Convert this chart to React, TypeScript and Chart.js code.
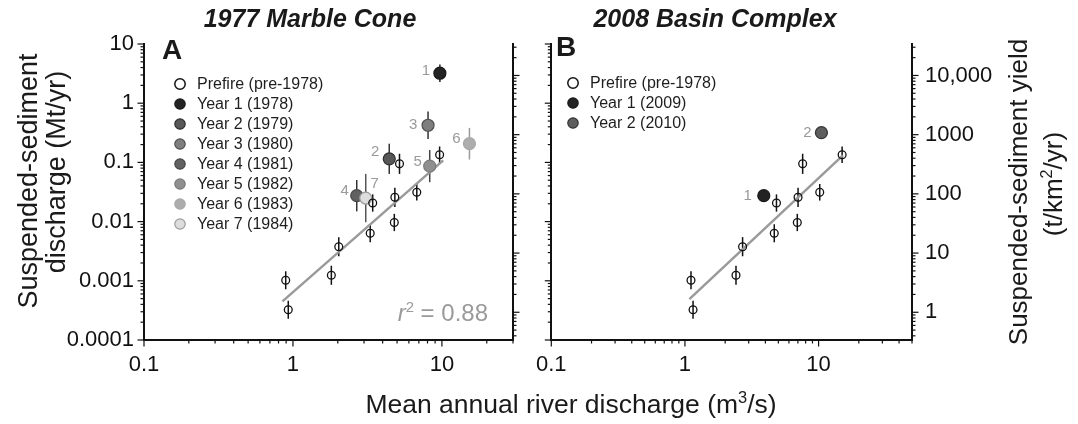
import React, { useEffect, useRef } from "react";
import { Chart, registerables } from "chart.js";
Chart.register(...registerables);

const FONT = '"Liberation Sans", Arial, Helvetica, sans-serif';

// ---------------- Panel A: 1977 Marble Cone ----------------
const prefireA_x = [0.894, 0.93, 1.81, 2.03, 3.3, 3.43, 4.79, 4.83, 6.78, 5.19, 9.65];
const prefireA_y = [0.00102, 0.000324, 0.00124, 0.00377, 0.00635, 0.0206, 0.00966, 0.0257, 0.0313, 0.0946, 0.1346];
const prefireA_err = [1.42, 1.42, 1.45, 1.45, 1.42, 1.4, 1.4, 1.45, 1.38, 1.48, 1.38];

const yearsA_names = ["Year 1 (1978)", "Year 2 (1979)", "Year 3 (1980)", "Year 4 (1981)", "Year 5 (1982)", "Year 6 (1983)", "Year 7 (1984)"];
const yearsA_ids = ["1", "2", "3", "4", "5", "6", "7"];
const yearsA_x = [9.69, 4.43, 8.07, 2.68, 8.28, 15.3, 3.08];
const yearsA_y = [3.21, 0.115, 0.424, 0.0274, 0.0865, 0.207, 0.025];
const yearsA_err = [1.41, 1.8, 1.71, 1.84, 1.87, 1.85, 2.56];

const fitA_x = [0.85, 10.2];
const fitA_y = [0.00045, 0.108];

// ---------------- Panel B: 2008 Basin Complex ----------------
const prefireB_x = [1.11, 1.15, 2.41, 2.7, 4.66, 4.84, 6.93, 7.02, 10.2, 7.6, 15.0];
const prefireB_y = [0.00102, 0.000324, 0.00124, 0.00377, 0.00635, 0.0206, 0.00966, 0.0257, 0.0313, 0.0946, 0.1346];
const prefireB_err = [1.42, 1.42, 1.45, 1.45, 1.42, 1.4, 1.4, 1.45, 1.38, 1.48, 1.38];

const yearsB_names = ["Year 1 (2009)", "Year 2 (2010)"];
const yearsB_ids = ["1", "2"];
const yearsB_x = [3.89, 10.5];
const yearsB_y = [0.0274, 0.318];
const yearsB_err = [1.22, 1.2];

const fitB_x = [1.08, 15.2];
const fitB_y = [0.00049, 0.131];

// ---------------- Axes ----------------
const xTickValues = [0.1, 1, 10];
const xTickLabels = ["0.1", "1", "10"];
const yTickValues = [0.0001, 0.001, 0.01, 0.1, 1, 10];
const yTickLabels = ["0.0001", "0.001", "0.01", "0.1", "1", "10"];
const yieldTickValues = [1, 10, 100, 1000, 10000];
const yieldTickLabels = ["1", "10", "100", "1000", "10,000"];

const X_MIN = 0.1;
const X_MAX_A = 30;
const X_MAX_B = 50;
const Y_MIN = 0.0001;
const Y_MAX = 10;
const YIELD_MIN = 0.34;
const YIELD_MAX = 34000;

// ---------------- Styles ----------------
const yearFillsA = ["#232323", "#575757", "#7e7e7e", "#616161", "#8f8f8f", "#adadad", "#dddddd"];
const yearBordersA = ["#1a1a1a", "#2e2e2e", "#505050", "#464646", "#7a7a7a", "#a8a8a8", "#9a9a9a"];
const yearErrA = ["#222", "#333", "#333", "#333", "#444", "#9a9a9a", "#555"];
const labelOffA = [[-14, -2], [-14, -7], [-15, 0], [-12, -5], [-12, -4], [-13, -5], [9, -14]];

const yearFillsB = ["#232323", "#5e5e5e"];
const yearBordersB = ["#1a1a1a", "#333333"];
const yearErrB = ["#222", "#333"];
const labelOffB = [[-16, 0], [-14, 0]];

function logTicks(min: number, max: number) {
  const out: any[] = [];
  const e0 = Math.floor(Math.log10(min) + 1e-9);
  const e1 = Math.ceil(Math.log10(max) - 1e-9);
  for (let e = e0; e <= e1; e++) {
    for (let d = 1; d < 10; d++) {
      const v = parseFloat((d * Math.pow(10, e)).toPrecision(6));
      if (v >= min * 0.9999 && v <= max * 1.0001) out.push({ value: v, major: d === 1 });
    }
  }
  return out;
}

function labelFor(v: number, vals: number[], labels: string[]) {
  for (let i = 0; i < vals.length; i++) {
    if (Math.abs(v - vals[i]) / vals[i] < 1e-6) return labels[i];
  }
  return "";
}

const tickMarks = {
  id: "tickMarks",
  afterDraw(chart: any) {
    const ctx = chart.ctx;
    ctx.save();
    ctx.strokeStyle = "#111";
    ctx.lineWidth = 1.2;
    Object.values(chart.scales).forEach((s: any) => {
      (s.ticks || []).forEach((t: any) => {
        const p = s.getPixelForValue(t.value);
        const len = t.major ? 6.5 : 3.5;
        ctx.beginPath();
        if (s.position === "left") {
          ctx.moveTo(s.right, p);
          ctx.lineTo(s.right - len, p);
        } else if (s.position === "right") {
          ctx.moveTo(s.left, p);
          ctx.lineTo(s.left + len, p);
        } else {
          ctx.moveTo(p, s.top);
          ctx.lineTo(p, s.top + len);
        }
        ctx.stroke();
      });
    });
    ctx.restore();
  },
};

const errorBars = {
  id: "errorBars",
  beforeDatasetsDraw(chart: any) {
    const ctx = chart.ctx;
    const xs = chart.scales.x;
    const ys = chart.scales.y;
    ctx.save();
    ctx.lineWidth = 1.5;
    chart.data.datasets.forEach((ds: any) => {
      if (!ds.errs) return;
      ctx.strokeStyle = ds.errColor;
      ds.data.forEach((pt: any, j: number) => {
        const f = ds.errs[j];
        const px = xs.getPixelForValue(pt.x);
        ctx.beginPath();
        ctx.moveTo(px, ys.getPixelForValue(pt.y * f));
        ctx.lineTo(px, ys.getPixelForValue(pt.y / f));
        ctx.stroke();
      });
    });
    ctx.restore();
  },
};

const overlay = {
  id: "overlay",
  afterDatasetsDraw(chart: any, _args: any, opts: any) {
    const ctx = chart.ctx;
    const xs = chart.scales.x;
    const ys = chart.scales.y;
    ctx.save();
    // point id labels
    ctx.font = `15px ${FONT}`;
    ctx.fillStyle = "#9a9a9a";
    ctx.textAlign = "center";
    ctx.textBaseline = "middle";
    chart.data.datasets.forEach((ds: any) => {
      if (!ds.pointId) return;
      const pt = ds.data[0];
      const px = xs.getPixelForValue(pt.x) + ds.labelOffset[0];
      const py = ys.getPixelForValue(pt.y) + ds.labelOffset[1];
      ctx.fillText(ds.pointId, px, py);
    });
    // legend
    const items = chart.data.datasets.filter((d: any) => d.inLegend);
    ctx.font = `16px ${FONT}`;
    ctx.textAlign = "left";
    items.forEach((d: any, i: number) => {
      const y = opts.y + i * opts.gap;
      ctx.beginPath();
      ctx.arc(opts.x, y, 5.2, 0, Math.PI * 2);
      ctx.fillStyle = d.pointBackgroundColor;
      ctx.fill();
      ctx.lineWidth = d.legendBorderWidth;
      ctx.strokeStyle = d.pointBorderColor;
      ctx.stroke();
      ctx.fillStyle = "#1e1e1e";
      ctx.fillText(d.label, opts.x + 17, y + 0.5);
    });
    ctx.restore();
  },
};

interface Panel {
  prefireX: number[];
  prefireY: number[];
  prefireErr: number[];
  names: string[];
  ids: string[];
  yx: number[];
  yy: number[];
  yerr: number[];
  fills: string[];
  borders: string[];
  errColors: string[];
  offsets: number[][];
  fitX: number[];
  fitY: number[];
  xMax: number;
  leftLabels: boolean;
  rightLabels: boolean;
  leftWidth: number;
  rightWidth: number;
  legendX: number;
  legendY: number;
}

function buildConfig(p: Panel): any {
  const datasets: any[] = [];
  datasets.push({
    label: "Prefire (pre-1978)",
    data: p.prefireX.map((x, i) => ({ x, y: p.prefireY[i] })),
    pointRadius: 3.9,
    pointBackgroundColor: "rgba(255,255,255,0)",
    pointBorderColor: "#111",
    pointBorderWidth: 1.3,
    errs: p.prefireErr,
    errColor: "#111",
    inLegend: true,
    legendBorderWidth: 1.5,
    order: 1,
  });
  const n = p.names.length;
  p.names.forEach((name, i) => {
    datasets.push({
      label: name,
      data: [{ x: p.yx[i], y: p.yy[i] }],
      pointRadius: 6,
      pointBackgroundColor: p.fills[i],
      pointBorderColor: p.borders[i],
      pointBorderWidth: 1.2,
      errs: [p.yerr[i]],
      errColor: p.errColors[i],
      pointId: p.ids[i],
      labelOffset: p.offsets[i],
      inLegend: true,
      legendBorderWidth: 1.2,
      order: 2 + (n - 1 - i),
    });
  });
  datasets.push({
    label: "fit",
    type: "line",
    data: p.fitX.map((x, i) => ({ x, y: p.fitY[i] })),
    borderColor: "#9a9a9a",
    borderWidth: 2.5,
    pointRadius: 0,
    showLine: true,
    fill: false,
    order: 50,
  });

  const tickFont = { family: FONT, size: 22 };
  return {
    type: "scatter",
    data: { datasets },
    options: {
      animation: false,
      responsive: false,
      maintainAspectRatio: false,
      events: [],
      layout: { padding: { top: 44, left: 0, right: 0, bottom: 0 } },
      plugins: {
        legend: { display: false },
        tooltip: { enabled: false },
        overlay: { x: p.legendX, y: p.legendY, gap: 20 },
      },
      scales: {
        x: {
          type: "logarithmic",
          position: "bottom",
          min: X_MIN,
          max: p.xMax,
          bounds: "data",
          afterBuildTicks: (s: any) => {
            s.ticks = logTicks(s.min, s.max);
          },
          afterFit: (s: any) => {
            s.height = 84;
          },
          grid: { display: false, drawTicks: true, tickLength: 6 },
          border: { display: true, color: "#111", width: 2 },
          ticks: {
            autoSkip: false,
            maxRotation: 0,
            padding: 6,
            color: "#111",
            font: tickFont,
            callback: (v: any) => labelFor(Number(v), xTickValues, xTickLabels),
          },
        },
        y: {
          type: "logarithmic",
          position: "left",
          min: Y_MIN,
          max: Y_MAX,
          bounds: "data",
          afterBuildTicks: (s: any) => {
            s.ticks = logTicks(s.min, s.max);
          },
          afterFit: (s: any) => {
            s.width = p.leftWidth;
          },
          grid: { display: false, drawTicks: true, tickLength: 6 },
          border: { display: true, color: "#111", width: 2 },
          ticks: {
            autoSkip: false,
            padding: 4,
            color: "#111",
            font: tickFont,
            callback: (v: any) => (p.leftLabels ? labelFor(Number(v), yTickValues, yTickLabels) : ""),
          },
        },
        y2: {
          type: "logarithmic",
          position: "right",
          min: YIELD_MIN,
          max: YIELD_MAX,
          bounds: "data",
          afterBuildTicks: (s: any) => {
            s.ticks = logTicks(s.min, s.max);
          },
          afterFit: (s: any) => {
            s.width = p.rightWidth;
          },
          grid: { display: false, drawTicks: true, tickLength: 6 },
          border: { display: true, color: "#111", width: 2 },
          ticks: {
            autoSkip: false,
            padding: 7,
            color: "#111",
            font: tickFont,
            callback: (v: any) => (p.rightLabels ? labelFor(Number(v), yieldTickValues, yieldTickLabels) : ""),
          },
        },
      },
    },
    plugins: [errorBars, overlay, tickMarks],
  };
}

function Txt(props: any) {
  const { cx, cy, rot = 0, size, weight = "normal", italic = false, color = "#1a1a1a", children } = props;
  return (
    <div
      style={{
        position: "absolute",
        left: cx,
        top: cy,
        transform: `translate(-50%,-50%) rotate(${rot}deg)`,
        fontFamily: FONT,
        fontSize: size,
        fontWeight: weight,
        fontStyle: italic ? "italic" : "normal",
        color,
        whiteSpace: "nowrap",
        lineHeight: 1,
      }}
    >
      {children}
    </div>
  );
}

const sup = (t: string) => (
  <span style={{ fontSize: "0.62em", position: "relative", top: "-0.6em" }}>{t}</span>
);

export default function App() {
  const refA = useRef<HTMLCanvasElement>(null);
  const refB = useRef<HTMLCanvasElement>(null);

  useEffect(() => {
    const a = new Chart(
      refA.current as HTMLCanvasElement,
      buildConfig({
        prefireX: prefireA_x,
        prefireY: prefireA_y,
        prefireErr: prefireA_err,
        names: yearsA_names,
        ids: yearsA_ids,
        yx: yearsA_x,
        yy: yearsA_y,
        yerr: yearsA_err,
        fills: yearFillsA,
        borders: yearBordersA,
        errColors: yearErrA,
        offsets: labelOffA,
        fitX: fitA_x,
        fitY: fitA_y,
        xMax: X_MAX_A,
        leftLabels: true,
        rightLabels: false,
        leftWidth: 144,
        rightWidth: 17,
        legendX: 180,
        legendY: 84,
      })
    );
    const b = new Chart(
      refB.current as HTMLCanvasElement,
      buildConfig({
        prefireX: prefireB_x,
        prefireY: prefireB_y,
        prefireErr: prefireB_err,
        names: yearsB_names,
        ids: yearsB_ids,
        yx: yearsB_x,
        yy: yearsB_y,
        yerr: yearsB_err,
        fills: yearFillsB,
        borders: yearBordersB,
        errColors: yearErrB,
        offsets: labelOffB,
        fitX: fitB_x,
        fitY: fitB_y,
        xMax: X_MAX_B,
        leftLabels: false,
        rightLabels: true,
        leftWidth: 14,
        rightWidth: 166,
        legendX: 43,
        legendY: 83,
      })
    );
    return () => {
      a.destroy();
      b.destroy();
    };
  }, []);

  return (
    <div style={{ position: "absolute", left: 0, top: 0, width: 1078, height: 424, background: "#fff", overflow: "hidden" }}>
      <canvas ref={refA} width={530} height={424} style={{ position: "absolute", left: 0, top: 0, width: 530, height: 424 }} />
      <canvas ref={refB} width={548} height={424} style={{ position: "absolute", left: 530, top: 0, width: 548, height: 424 }} />

      <Txt cx={310} cy={18} size={25} weight="bold" italic>1977 Marble Cone</Txt>
      <Txt cx={715} cy={18} size={25} weight="bold" italic>2008 Basin Complex</Txt>

      <Txt cx={172} cy={50} size={28} weight="bold">A</Txt>
      <Txt cx={566} cy={47} size={28} weight="bold">B</Txt>

      <div
        style={{
          position: "absolute",
          right: 1078 - 488,
          top: 313,
          transform: "translateY(-50%)",
          fontFamily: FONT,
          fontSize: 24,
          color: "#9a9a9a",
          whiteSpace: "nowrap",
          lineHeight: 1,
        }}
      >
        <i>r</i>
        {sup("2")} = 0.88
      </div>

      <Txt cx={28} cy={181} rot={-90} size={27}>Suspended-sediment</Txt>
      <Txt cx={56} cy={172} rot={-90} size={27}>discharge (Mt/yr)</Txt>

      <Txt cx={1018} cy={192} rot={-90} size={26}>Suspended-sediment yield</Txt>
      <Txt cx={1053} cy={184} rot={-90} size={26}>(t/km{sup("2")}/yr)</Txt>

      <Txt cx={571} cy={404} size={26.5}>Mean annual river discharge (m{sup("3")}/s)</Txt>
    </div>
  );
}
